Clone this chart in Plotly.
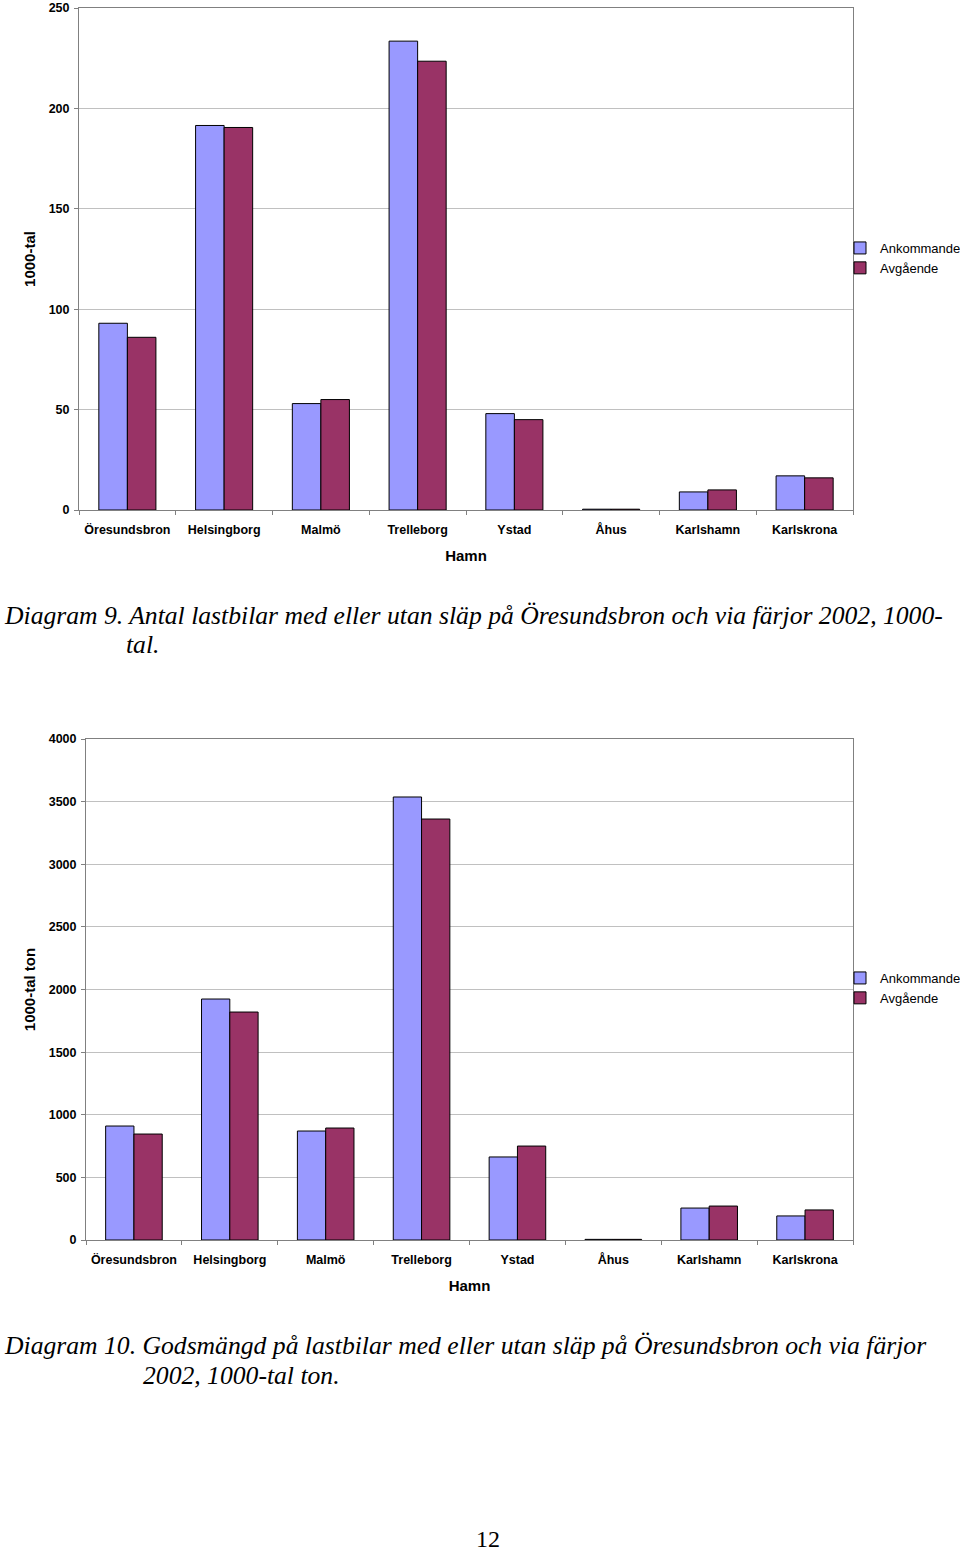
import plotly.graph_objects as go

W, H = 960, 1551

hamnar = ["Öresundsbron", "Helsingborg", "Malmö", "Trelleborg", "Ystad", "Åhus", "Karlshamn", "Karlskrona"]

# Diagram 9: antal lastbilar, 1000-tal
lastbilar_ankommande = [93, 191.5, 53, 233.5, 48, 0.4, 9, 17]
lastbilar_avgaende = [86, 190.5, 55, 223.5, 45, 0.4, 10, 16]

# Diagram 10: godsmängd, 1000-tal ton
gods_ankommande = [910, 1924, 870, 3537, 663, 5, 255, 192]
gods_avgaende = [846, 1820, 894, 3361, 750, 5, 271, 240]

series_names = ["Ankommande", "Avgående"]
col_ank = "#9999FF"
col_avg = "#993366"

def py(y):
    return 1 - y / H

fig = go.Figure()

for vals, name, col in [(lastbilar_ankommande, series_names[0], col_ank),
                        (lastbilar_avgaende, series_names[1], col_avg)]:
    fig.add_trace(go.Bar(x=hamnar, y=vals, name=name, marker=dict(color=col, line=dict(color="#000000", width=1)),
                         xaxis="x", yaxis="y", legend="legend"))

for vals, name, col in [(gods_ankommande, series_names[0], col_ank),
                        (gods_avgaende, series_names[1], col_avg)]:
    fig.add_trace(go.Bar(x=hamnar, y=vals, name=name, marker=dict(color=col, line=dict(color="#000000", width=1)),
                         xaxis="x2", yaxis="y2", legend="legend2"))

tickfont = dict(family="Liberation Sans, Arial", size=12.5, color="#000000", weight="bold")
titlefont = dict(family="Liberation Sans, Arial", size=15, color="#000000", weight="bold")
axcommon = dict(showline=True, linecolor="#808080", linewidth=1, mirror=True, automargin=False,
                tickfont=tickfont, ticks="outside", tickcolor="#808080", ticklen=4)

fig.update_layout(
    width=W, height=H, autosize=False,
    margin=dict(l=0, r=0, t=0, b=0, autoexpand=False),
    paper_bgcolor="white", plot_bgcolor="white",
    barmode="group", bargap=0.41, bargroupgap=0,
    xaxis=dict(domain=[79 / W, 853 / W], anchor="y", tickson="boundaries", showgrid=False,
               ticklabelstandoff=8, tickangle=0,
               title=dict(text="Hamn", font=titlefont, standoff=14), **axcommon),
    yaxis=dict(domain=[py(510), py(8)], anchor="x", range=[0, 250], dtick=50, showgrid=True,
               gridcolor="#c0c0c0", zeroline=False, ticklabelstandoff=2,
               title=dict(text="1000-tal", font=titlefont, standoff=9), **axcommon),
    xaxis2=dict(domain=[86 / W, 853 / W], anchor="y2", tickson="boundaries", showgrid=False,
                ticklabelstandoff=8, tickangle=0,
                title=dict(text="Hamn", font=titlefont, standoff=14), **axcommon),
    yaxis2=dict(domain=[py(1240), py(739)], anchor="x2", range=[0, 4000], dtick=500, showgrid=True,
                gridcolor="#c0c0c0", zeroline=False, ticklabelstandoff=2,
                title=dict(text="1000-tal ton", font=titlefont, standoff=9), **axcommon),
    legend=dict(x=840 / W, y=py(258), xanchor="left", yanchor="middle", bgcolor="rgba(0,0,0,0)",
                font=dict(family="Liberation Sans, Arial", size=13, color="#000000"),
                itemwidth=30, tracegroupgap=0),
    legend2=dict(x=840 / W, y=py(988), xanchor="left", yanchor="middle", bgcolor="rgba(0,0,0,0)",
                 font=dict(family="Liberation Sans, Arial", size=13, color="#000000"),
                 itemwidth=30, tracegroupgap=0),
)

capfont = dict(family="Liberation Serif, Times New Roman", size=25.65, color="#000000", style="italic")
annots = [
    (2, 615, "Diagram 9. Antal lastbilar med eller utan släp på Öresundsbron och via färjor 2002, 1000-"),
    (124, 644, "tal."),
    (2, 1345, "Diagram 10. Godsmängd på lastbilar med eller utan släp på Öresundsbron och via färjor"),
    (141, 1375, "2002, 1000-tal ton."),
]
for x, y, t in annots:
    fig.add_annotation(text=t, x=x / W, y=py(y), xref="paper", yref="paper", xanchor="left", yanchor="middle",
                       showarrow=False, font=capfont)

fig.add_annotation(text="12", x=488 / W, y=py(1539), xref="paper", yref="paper", xanchor="center",
                   yanchor="middle", showarrow=False,
                   font=dict(family="Liberation Serif, Times New Roman", size=24, color="#000000"))

fig.write_html("out.html", config={"displayModeBar": False},
               post_script="document.body.style.margin='0px';document.body.style.overflow='hidden';")
